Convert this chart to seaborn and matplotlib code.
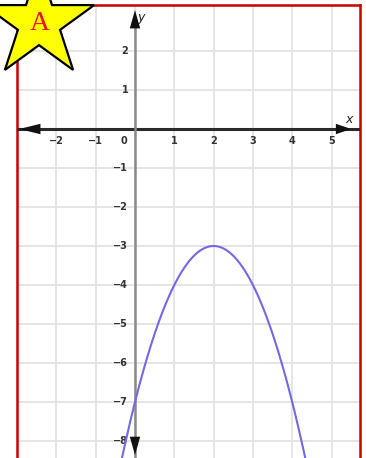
import numpy as np
import matplotlib
matplotlib.use("Agg")
import matplotlib.pyplot as plt
from matplotlib.patches import Polygon
import seaborn as sns

# Parabola y = a (x - h)^2 + k
a_coef = -1.0
vertex_x = 2.0
vertex_y = -3.0
curve_x_start, curve_x_end = -0.6, 4.6

# Axis ticks and labels
x_ticks = [-2, -1, 1, 2, 3, 4, 5]
y_ticks = [-8, -7, -6, -5, -4, -3, -2, -1, 1, 2]
grid_x = [-3, -2, -1, 0, 1, 2, 3, 4, 5]
grid_y = [-8, -7, -6, -5, -4, -3, -2, -1, 0, 1, 2]

badge_letter = "A"

sns.set_theme(style="white")
plt.rcParams["font.family"] = ["DejaVu Sans"]

W, H = 366, 458
fig = plt.figure(figsize=(W / 100, H / 100), dpi=100)
fig.patch.set_facecolor("white")

ax = fig.add_axes([17 / W, 0.0, (360 - 17) / W, (458 - 5) / H])
x_lo, x_hi = (17 - 135) / 39.3, (360 - 135) / 39.3
y_hi, y_lo = (129 - 5) / 39.0, (129 - 458) / 39.0
ax.set_xlim(x_lo, x_hi)
ax.set_ylim(y_lo, y_hi)

# grid
for gx in grid_x:
    ax.axvline(gx, color="#e3e3e3", lw=1.3, zorder=0)
for gy in grid_y:
    ax.axhline(gy, color="#e3e3e3", lw=1.3, zorder=0)
ax.set_xticks([])
ax.set_yticks([])

for side in ["left", "top", "right"]:
    ax.spines[side].set_color("#cc0000")
    ax.spines[side].set_linewidth(1.8)
ax.spines["bottom"].set_visible(False)

# axes lines with arrowheads
ax.plot([x_lo, x_hi], [0, 0], color="#2a2a2a", lw=2.2, zorder=3, solid_capstyle="butt")
ax.plot([0, 0], [y_lo, 2.85], color="#8a8a8a", lw=1.8, zorder=3, solid_capstyle="butt")


def arrow_head(tip, tail, length):
    kw = dict(arrowstyle=f"-|>,head_length={length},head_width=0.17", color="#111111",
              lw=0, mutation_scale=22, shrinkA=0, shrinkB=0)
    ax.annotate("", xy=tip, xytext=tail, arrowprops=kw, zorder=4)


arrow_head((-2.95, 0), (-2.2, 0), 0.7)
arrow_head((5.5, 0), (4.9, 0), 0.5)
arrow_head((0, 3.05), (0, 2.3), 0.6)
arrow_head((0, -8.36), (0, -7.6), 0.6)

# tick labels
lab_kw = dict(fontsize=7, fontweight="bold", color="#333333", zorder=5)
for t in x_ticks:
    ax.text(t, -0.3, f"\u2212{abs(t)}" if t < 0 else str(t), ha="center", va="center", **lab_kw)
ax.text(-0.28, -0.3, "0", ha="center", va="center", **lab_kw)
for t in y_ticks:
    ax.text(-0.17, t, f"\u2212{abs(t)}" if t < 0 else str(t), ha="right", va="center", **lab_kw)

ax.text(5.45, 0.25, "x", fontsize=9, style="italic", color="#222222", ha="center", va="center", zorder=5)
ax.text(0.14, 2.85, "y", fontsize=9, style="italic", color="#222222", ha="center", va="center", zorder=5)

# parabola
xs = np.linspace(curve_x_start, curve_x_end, 400)
ys = a_coef * (xs - vertex_x) ** 2 + vertex_y
sns.lineplot(x=xs, y=ys, ax=ax, color="#7468e6", lw=1.5, sort=False, zorder=6)

# star badge in pixel coordinates
ov = fig.add_axes([0, 0, 1, 1], facecolor="none")
ov.set_xlim(0, W)
ov.set_ylim(H, 0)
ov.axis("off")
cx, cy, r_out = 39, 23, 58
r_in = r_out * 0.382
pts = []
for i in range(10):
    ang = np.deg2rad(90 + 36 * i)
    r = r_out if i % 2 == 0 else r_in
    pts.append((cx + r * np.cos(ang), cy - r * np.sin(ang)))
ov.add_patch(Polygon(pts, closed=True, facecolor="#ffff00", edgecolor="black", lw=1.6, zorder=10))
ov.text(40, 24, badge_letter, fontsize=20, color="#ee1111", family="Liberation Serif",
        ha="center", va="center", zorder=11)

fig.savefig("out.png", dpi=100, facecolor="white")
